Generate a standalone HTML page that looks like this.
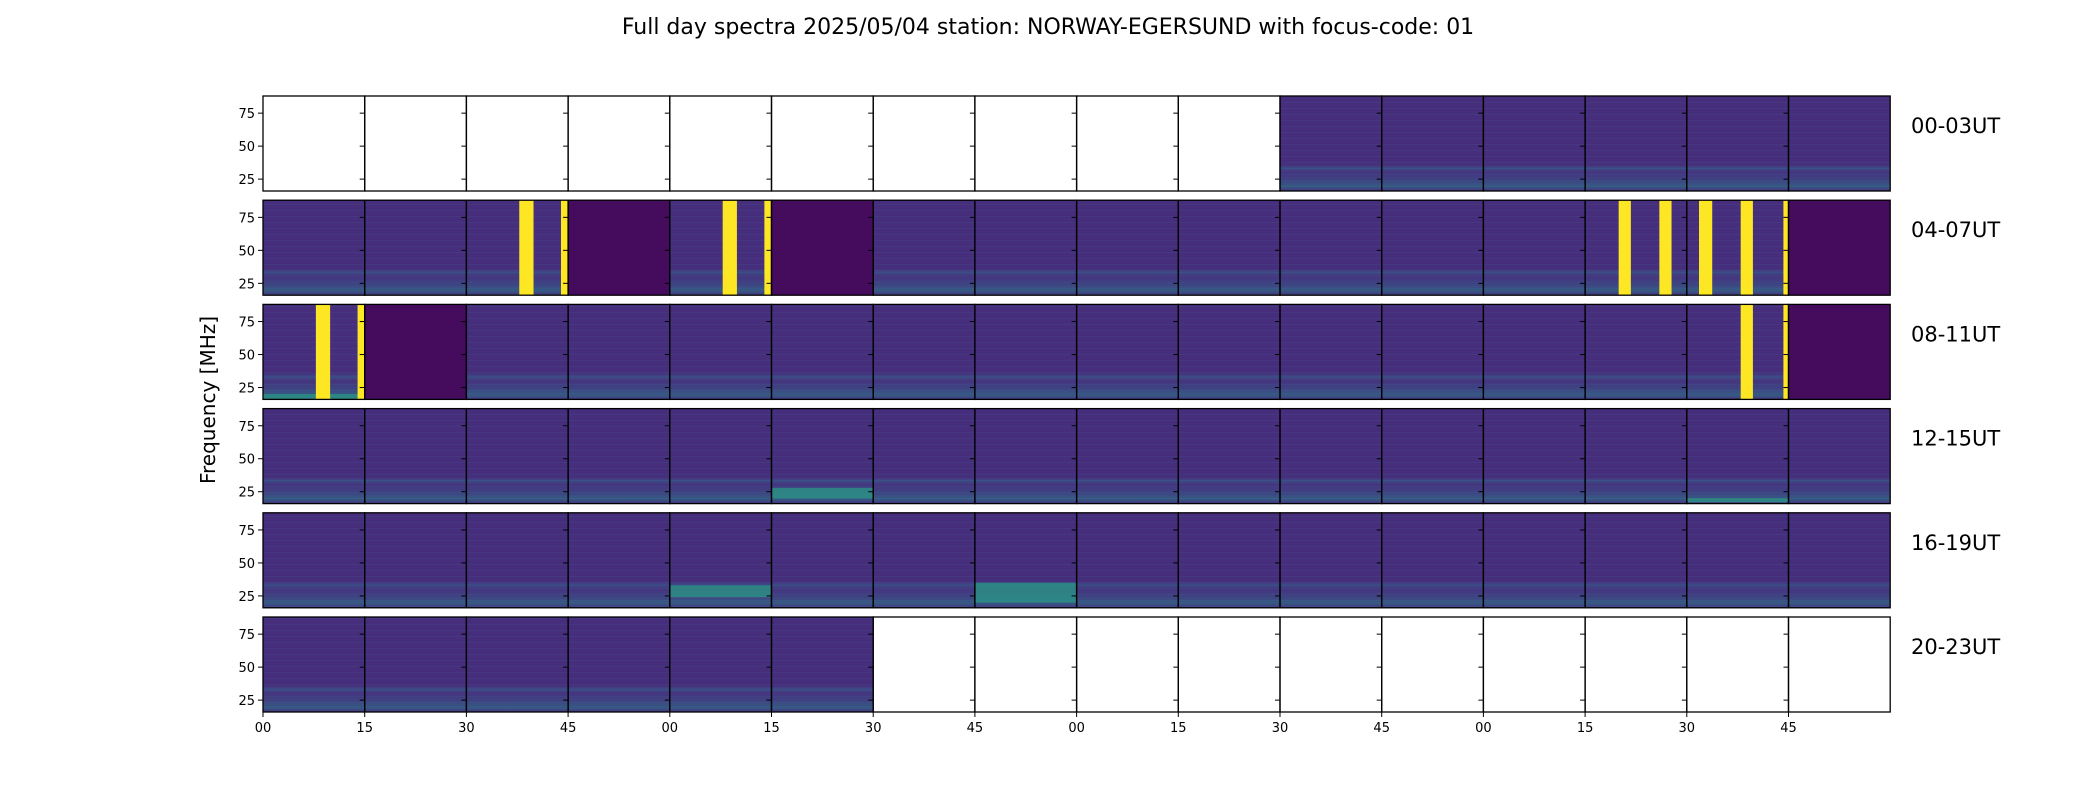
<!DOCTYPE html>
<html><head><meta charset="utf-8"><style>
html,body{margin:0;padding:0;background:#fff;width:2100px;height:800px;overflow:hidden}
svg{display:block;font-family:"DejaVu Sans","Liberation Sans",sans-serif}
</style></head><body>
<svg id="fig" width="2100" height="800" viewBox="0 0 2100 800" xmlns="http://www.w3.org/2000/svg">
<defs>
<linearGradient id="lowband" x1="0" y1="0" x2="0" y2="1">
<stop offset="0" stop-color="#3b528b" stop-opacity="0"/>
<stop offset="0.72" stop-color="#3b528b" stop-opacity="0"/>
<stop offset="0.76" stop-color="#31688e" stop-opacity="0.55"/>
<stop offset="0.80" stop-color="#3b528b" stop-opacity="0.2"/>
<stop offset="0.88" stop-color="#31688e" stop-opacity="0.35"/>
<stop offset="0.95" stop-color="#21918c" stop-opacity="0.45"/>
<stop offset="1" stop-color="#3b528b" stop-opacity="0.3"/>
</linearGradient>
<pattern id="stripes" width="8" height="6" patternUnits="userSpaceOnUse">
<rect width="8" height="1" fill="#3e4a89" opacity="0.35"/>
</pattern>
</defs>
<text x="1048" y="34" font-size="22" text-anchor="middle" fill="#000">Full day spectra 2025/05/04 station: NORWAY-EGERSUND with focus-code: 01</text>
<text transform="translate(215,400) rotate(-90)" font-size="20" text-anchor="middle" fill="#000">Frequency [MHz]</text>
<g id="panels"></g>
</svg>
<script>
// panel state per row (16 panels of 15 min): 0 = no data, 1 = normal, 2 = dark/quiet
const rowLabels = ["00-03UT","04-07UT","08-11UT","12-15UT","16-19UT","20-23UT"];
const panelState = [
 [0,0,0,0,0,0,0,0,0,0,1,1,1,1,1,1],
 [1,1,1,2,1,2,1,1,1,1,1,1,1,1,1,2],
 [1,2,1,1,1,1,1,1,1,1,1,1,1,1,1,2],
 [1,1,1,1,1,1,1,1,1,1,1,1,1,1,1,1],
 [1,1,1,1,1,1,1,1,1,1,1,1,1,1,1,1],
 [1,1,1,1,1,1,0,0,0,0,0,0,0,0,0,0]
];
// saturated (yellow) interference bursts: [row, panel, startFrac, endFrac]
const bursts = [
 [1,2,0.52,0.66],[1,2,0.93,1.0],[1,4,0.52,0.66],[1,4,0.93,1.0],
 [1,13,0.33,0.45],[1,13,0.73,0.85],[1,14,0.12,0.25],[1,14,0.53,0.65],[1,14,0.95,1.0],
 [2,0,0.52,0.66],[2,0,0.93,1.0],[2,14,0.53,0.65],[2,14,0.95,1.0]
];
// broadband green bands: [row, panel, fLow MHz, fHigh MHz]
const bands = [[4,4,24,33],[4,7,20,35],[3,5,20,28],[3,14,17,20],[2,0,16,20]];
const yTicks = [25,50,75];
const xTickLabels = ["00","15","30","45","00","15","30","45","00","15","30","45","00","15","30","45"];

const X0=263, PW=101.7, Y0=96, PH=95, RP=104.2, FMIN=16, FMAX=88;
const fy = (r,f)=> Y0+r*RP + PH*(FMAX-f)/(FMAX-FMIN);
const px = (c,frac)=> X0+(c+frac)*PW;
const NS="http://www.w3.org/2000/svg";
const g=document.getElementById('panels');
function mk(tag,attrs,parent){const e=document.createElementNS(NS,tag);for(const k in attrs)e.setAttribute(k,attrs[k]);(parent||g).appendChild(e);return e;}

panelState.forEach((row,r)=>{
  row.forEach((s,c)=>{
    const x=px(c,0), y=Y0+r*RP;
    const rc=mk('rect',{x:x,y:y,width:PW,height:PH,fill:s===0?'#fff':(s===2?'#450b5d':'#472e7c')});
    
    
    if(s===1){
      mk('rect',{x:x,y:y,width:PW,height:PH,fill:'url(#stripes)'});
      mk('rect',{x:x,y:y,width:PW,height:PH,fill:'url(#lowband)'});
    }
  });
});
bands.forEach(b=>{
  const [r,c,lo,hi]=b;
  const e=mk('rect',{x:px(c,0),y:fy(r,hi),width:PW,height:fy(r,lo)-fy(r,hi),fill:'#2a9a84',opacity:0.75});
  
  
});
bursts.forEach(b=>{
  const [r,c,s,e2]=b;
  const e=mk('rect',{x:px(c,s),y:fy(r,FMAX),width:(e2-s)*PW,height:PH,fill:'#fde725'});
  
  
});
// frames, ticks
panelState.forEach((row,r)=>{
  row.forEach((s,c)=>{
    const x=px(c,0), y=Y0+r*RP;
    const fr=mk('rect',{x:x,y:y,width:PW,height:PH,fill:'none',stroke:'#000','stroke-width':1.3});
    
    
    yTicks.forEach(t=>{ mk('line',{x1:x-5,x2:x,y1:fy(r,t),y2:fy(r,t),stroke:'#000','stroke-width':1}); });
  });
  yTicks.forEach(t=>{
    const tl=mk('text',{x:X0-8,y:fy(r,t)+5,'font-size':13,'text-anchor':'end',fill:'#000'});
    tl.textContent=t;
    
    
  });
  const lab=mk('text',{x:1911,y:Y0+r*RP+37,'font-size':21,fill:'#000'});
  lab.textContent=rowLabels[r];
  
  
});
const yb=Y0+5*RP+PH;
xTickLabels.forEach((l,i)=>{
  const x=px(i,0);
  mk('line',{x1:x,x2:x,y1:yb,y2:yb+5,stroke:'#000','stroke-width':1});
  const t=mk('text',{x:x,y:yb+20,'font-size':13,'text-anchor':'middle',fill:'#000'});
  t.textContent=l;
  
  
});
</script>
</body></html>
